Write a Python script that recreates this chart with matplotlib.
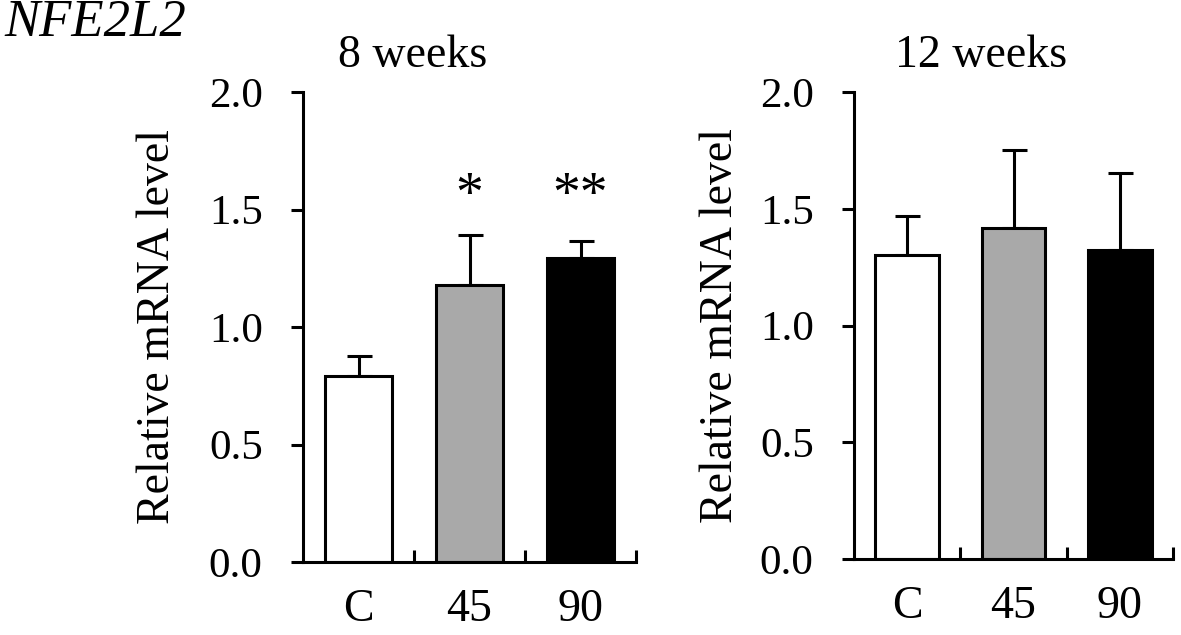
import matplotlib
matplotlib.use("Agg")
import matplotlib.pyplot as plt
import numpy as np

categories = ["C", "45", "90"]
means_8w = [0.79, 1.177, 1.295]
err_8w = [0.085, 0.215, 0.071]
means_12w = [1.30, 1.419, 1.322]
err_12w = [0.17, 0.333, 0.329]
stars_8w = ["", "*", "**"]
stars_12w = ["", "", ""]
colors = ["white", "#a9a9a9", "black"]
yticks = [0.0, 0.5, 1.0, 1.5, 2.0]
ytick_labels = ["0.0", "0.5", "1.0", "1.5", "2.0"]

plt.rcParams['font.family'] = ['Liberation Serif', 'DejaVu Serif']

W, H = 1181, 635
fig = plt.figure(figsize=(W / 100, H / 100), dpi=100)

def px_axes(x0, x1, ytop, ybot):
    return fig.add_axes([x0 / W, (H - ybot) / H, (x1 - x0) / W, (ybot - ytop) / H])

lw = 2.2
fs_tick = 31
fs_lab = 33

def draw(ax, means, errs, stars, label_x):
    x = np.arange(len(categories))
    ax.bar(x, means, width=0.6, color=colors, edgecolor="black", linewidth=lw, zorder=2)
    ax.errorbar(x, means, yerr=[np.zeros(len(errs)), errs], fmt="none",
                ecolor="black", elinewidth=lw, capsize=9, capthick=lw, zorder=1)
    for xi, s in zip(x, stars):
        if s:
            ax.text(xi, 1.494, s, ha="center", va="baseline", fontsize=40)
    ax.set_xlim(-0.5, 2.5)
    ax.set_ylim(0, 2.0)
    ax.set_yticks(yticks)
    ax.set_yticklabels(ytick_labels, fontsize=fs_tick)
    ax.set_xticks(x)
    ax.set_xticklabels(categories, fontsize=fs_lab)
    ax.set_xticks([0.5, 1.5, 2.5], minor=True)
    ax.tick_params(axis="x", which="major", length=0, pad=19)
    ax.tick_params(axis="x", which="minor", direction="in", length=9, width=lw)
    ax.tick_params(axis="y", which="major", direction="out", length=9, width=lw, pad=20)
    for sp in ["top", "right"]:
        ax.spines[sp].set_visible(False)
    for sp in ["left", "bottom"]:
        ax.spines[sp].set_linewidth(lw)
    ax.set_ylabel("Relative mRNA level", fontsize=fs_lab)
    ax.yaxis.set_label_coords(label_x, 0.5)
    ax.patch.set_alpha(0)

ax1 = px_axes(303, 636, 92, 562)
draw(ax1, means_8w, err_8w, stars_8w, (179 - 303) / 333)
ax2 = px_axes(854, 1173, 92, 559)
draw(ax2, means_12w, err_12w, stars_12w, (742 - 854) / 319)

fig.text(413 / W, 1 - 67 / H, "8 weeks", ha="center", va="baseline", fontsize=fs_lab)
fig.text(981 / W, 1 - 67 / H, "12 weeks", ha="center", va="baseline", fontsize=fs_lab)
fig.text(4 / W, 1 - 36 / H, "NFE2L2", ha="left", va="baseline", fontsize=38, style="italic")

fig.savefig("out.png", dpi=100)
